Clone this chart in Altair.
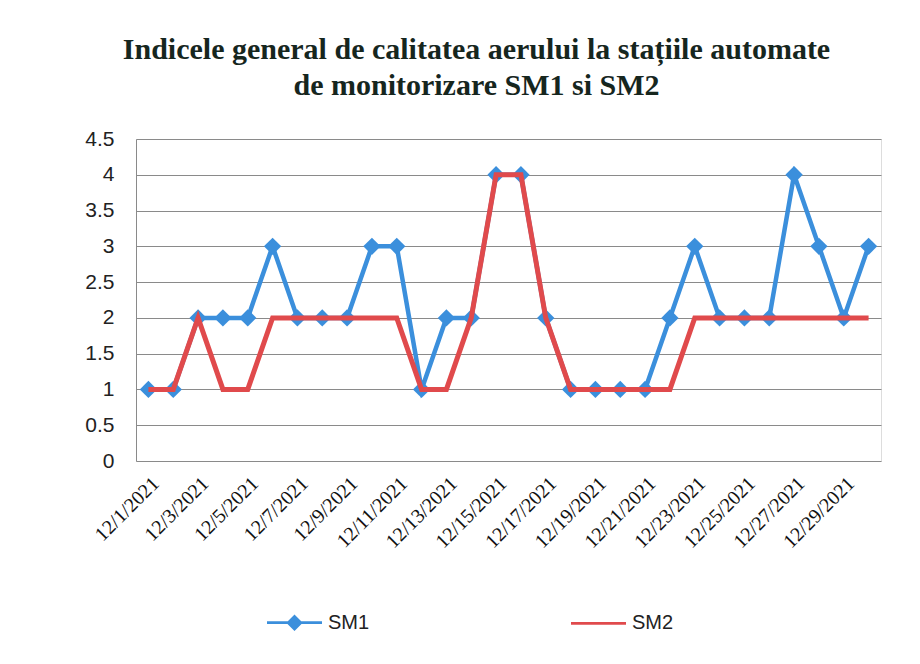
import altair as alt
import pandas as pd

dates = [
    "12/1/2021", "12/2/2021", "12/3/2021", "12/4/2021", "12/5/2021",
    "12/6/2021", "12/7/2021", "12/8/2021", "12/9/2021", "12/10/2021",
    "12/11/2021", "12/12/2021", "12/13/2021", "12/14/2021", "12/15/2021",
    "12/16/2021", "12/17/2021", "12/18/2021", "12/19/2021", "12/20/2021",
    "12/21/2021", "12/22/2021", "12/23/2021", "12/24/2021", "12/25/2021",
    "12/26/2021", "12/27/2021", "12/28/2021", "12/29/2021", "12/30/2021",
]
sm1 = [1, 1, 2, 2, 2, 3, 2, 2, 2, 3, 3, 1, 2, 2, 4, 4, 2, 1, 1, 1, 1, 2, 3, 2, 2, 2, 4, 3, 2, 3]
sm2 = [1, 1, 2, 1, 1, 2, 2, 2, 2, 2, 2, 1, 1, 2, 4, 4, 2, 1, 1, 1, 1, 1, 2, 2, 2, 2, 2, 2, 2, 2]
series_names = ["SM1", "SM2"]
x_tick_labels = dates[::2]
y_ticks = [0, 0.5, 1, 1.5, 2, 2.5, 3, 3.5, 4, 4.5]
title_lines = ["Indicele general de calitatea aerului la stațiile automate",
               "de monitorizare SM1 si SM2"]

BLUE = "#3b8fdc"
RED = "#e04a4c"

df = pd.DataFrame({
    "date": dates + dates,
    "value": sm1 + sm2,
    "series": ["SM1"] * len(sm1) + ["SM2"] * len(sm2),
})

x_enc = alt.X(
    "date:N", sort=dates,
    scale=alt.Scale(type="point", padding=0.5),
    axis=alt.Axis(values=x_tick_labels, title=None, labelAngle=-45,
                  labelFont="Liberation Serif", labelFontSize=20,
                  labelColor="#111111", ticks=False, domain=False,
                  labelPadding=12, grid=False),
)
y_enc = alt.Y(
    "value:Q",
    scale=alt.Scale(domain=[0, 4.5], nice=False, zero=True),
    axis=alt.Axis(values=y_ticks, format="~g", title=None, ticks=False,
                  labelFont="Liberation Sans", labelFontSize=21,
                  labelColor="#222222", labelPadding=22,
                  domain=True, domainColor="#8a8a8a",
                  grid=True, gridColor="#8a8a8a", gridWidth=1),
)

color_scale = alt.Scale(domain=series_names, range=[BLUE, RED])
# legend symbols: a stroke with a diamond for SM1, a plain stroke for SM2
shape_scale = alt.Scale(
    domain=series_names,
    range=[
        "M-1,-0.05L1,-0.05L1,0.05L-1,0.05Z M0,-0.3L0.3,0L0,0.3L-0.3,0Z",
        "M-1,-0.05L1,-0.05L1,0.05L-1,0.05Z",
    ],
)

base = alt.Chart(df)

line_sm1 = base.transform_filter(alt.datum.series == "SM1").mark_line(
    strokeWidth=4.5, color=BLUE
).encode(x=x_enc, y=y_enc)

pts_sm1 = base.transform_filter(alt.datum.series == "SM1").mark_point(
    shape="diamond", filled=True, size=300, opacity=1, color=BLUE
).encode(x=x_enc, y=y_enc)

line_sm2 = base.transform_filter(alt.datum.series == "SM2").mark_line(
    strokeWidth=5, color=RED
).encode(x=x_enc, y=y_enc)

legend_props = dict(
    title=None, orient="none", direction="horizontal",
    legendX=130, legendY=455, symbolOpacity=1,
    symbolSize=3025, labelFont="Liberation Sans", labelFontSize=20,
    labelColor="#222222", columnPadding=198, labelOffset=5, padding=0,
)
legend_layer = base.mark_point(filled=True, size=0).encode(
    x=x_enc, y=y_enc,
    color=alt.Color("series:N", scale=color_scale, legend=alt.Legend(**legend_props)),
    shape=alt.Shape("series:N", scale=shape_scale, legend=alt.Legend(**legend_props)),
)

chart = alt.layer(legend_layer, line_sm1, pts_sm1, line_sm2).properties(
    width=745,
    height=322,
    title=alt.TitleParams(
        text=title_lines, font="Liberation Serif", fontSize=30,
        fontWeight="bold", color="#16261e", lineHeight=36,
        anchor="middle", dx=-32, offset=27,
    ),
    padding={"left": 76, "top": 27, "right": 10, "bottom": 10},
).configure_view(stroke=None).configure(background="white")

chart.save("out.html", embed_options={"renderer": "svg", "actions": False})
